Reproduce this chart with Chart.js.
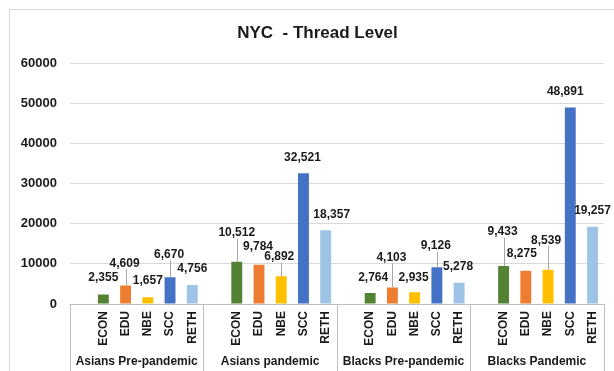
<!DOCTYPE html>
<html>
<head>
<meta charset="utf-8">
<script src="https://cdn.jsdelivr.net/npm/chart.js@4.4.1/dist/chart.umd.min.js"></script>
<style>
  html, body { margin: 0; padding: 0; background: #fff; }
  canvas { display: block; }
</style>
</head>
<body>
<canvas id="c" width="614" height="371"></canvas>
<script>
// Thread counts per measure, split into four population / period groups
const groups = ['Asians Pre-pandemic', 'Asians pandemic', 'Blacks Pre-pandemic', 'Blacks Pandemic'];
const measures = ['ECON', 'EDU', 'NBE', 'SCC', 'RETH'];
const asiansPrePandemic = [2355, 4609, 1657, 6670, 4756];
const asiansPandemic = [10512, 9784, 6892, 32521, 18357];
const blacksPrePandemic = [2764, 4103, 2935, 9126, 5278];
const blacksPandemic = [9433, 8275, 8539, 48891, 19257];
const yTicks = [0, 10000, 20000, 30000, 40000, 50000, 60000];

// styling
const measureColors = ['#548235', '#ED7D31', '#FFC000', '#4472C4', '#9DC3E6'];
// value label placement per bar: [x shift, lift above bar top, leader line]
const labelNudge = [
  [[0, 17, 0], [-1, 22, 1], [0, 17, 0], [-1, 22.5, 1], [0, 16, 0]],
  [[0, 29, 1], [-1, 18.5, 0], [-2, 19.5, 1], [-1, 16, 0], [6, 15.6, 0]],
  [[3, 15.7, 0], [-1, 30, 1], [-1, 15, 0], [-1, 21.6, 1], [-1, 16.6, 0]],
  [[-1, 34, 1], [-4, 16.6, 0], [-2, 29.5, 1], [-5, 16, 0], [0, 16.4, 0]]
];

const seriesByGroup = [asiansPrePandemic, asiansPandemic, blacksPrePandemic, blacksPandemic];

// each group gets a blank leading slot followed by its five measures
const labels = [];
const values = [];
const colors = [];
seriesByGroup.forEach((series) => {
  labels.push('');
  values.push(null);
  colors.push('rgba(0,0,0,0)');
  measures.forEach((m, i) => {
    labels.push(m);
    values.push(series[i]);
    colors.push(measureColors[i]);
  });
});

const FONT = "'Liberation Sans', Arial, sans-serif";
const TEXT = '#1a1a1a';

const decorations = {
  id: 'decorations',
  afterDraw(chart) {
    const ctx = chart.ctx;
    const xs = chart.scales.x;
    const area = chart.chartArea;
    const H = chart.height;
    ctx.save();

    // outer frame
    ctx.strokeStyle = '#d9d9d9';
    ctx.lineWidth = 1;
    ctx.strokeRect(9.5, 9.5, chart.width + 20, H + 20);

    // title
    ctx.fillStyle = TEXT;
    ctx.font = 'bold 17px ' + FONT;
    ctx.textAlign = 'center';
    ctx.textBaseline = 'middle';
    ctx.fillText('NYC  - Thread Level', 317.5, 33);

    // group separators and group names
    const slot = (xs.right - xs.left) / labels.length;
    ctx.strokeStyle = '#bfbfbf';
    for (let g = 0; g <= groups.length; g++) {
      const x = Math.round(xs.left + g * 6 * slot) + 0.5;
      ctx.beginPath();
      ctx.moveTo(x, area.bottom);
      ctx.lineTo(x, H);
      ctx.stroke();
    }
    ctx.font = 'bold 12px ' + FONT;
    groups.forEach((name, g) => {
      const cx = xs.left + (g * 6 + 3) * slot;
      ctx.fillText(name, cx, 362);
    });

    // value labels with leader lines
    const meta = chart.getDatasetMeta(0);
    meta.data.forEach((el, k) => {
      const s = k % 6;
      if (s === 0) return;
      const g = Math.floor(k / 6);
      const [dx, lift, leader] = labelNudge[g][s - 1];
      const ly = el.y - lift;
      if (leader) {
        ctx.strokeStyle = '#a6a6a6';
        ctx.beginPath();
        ctx.moveTo(Math.round(el.x) + 0.5, ly + 6);
        ctx.lineTo(Math.round(el.x) + 0.5, el.y);
        ctx.stroke();
      }
      ctx.fillStyle = TEXT;
      ctx.font = 'bold 12px ' + FONT;
      ctx.textAlign = 'center';
      ctx.textBaseline = 'middle';
      ctx.fillText(values[k].toLocaleString('en-US'), el.x + dx, ly);
    });
    ctx.restore();
  }
};

new Chart(document.getElementById('c'), {
  type: 'bar',
  data: {
    labels: labels,
    datasets: [{
      data: values,
      backgroundColor: colors,
      borderWidth: 0,
      barPercentage: 0.49,
      categoryPercentage: 1
    }]
  },
  options: {
    responsive: false,
    animation: false,
    devicePixelRatio: 1,
    layout: { padding: { top: 63, left: 20, right: 4, bottom: 25 } },
    plugins: {
      legend: { display: false },
      title: { display: false },
      tooltip: { enabled: false }
    },
    scales: {
      x: {
        grid: { display: false, drawTicks: false },
        border: { display: true, color: '#bfbfbf', width: 1 },
        ticks: {
          autoSkip: false,
          maxRotation: 90,
          minRotation: 90,
          padding: 7,
          color: TEXT,
          font: { family: FONT, size: 12, weight: 'bold' }
        },
        afterFit(scale) { scale.height = 42; }
      },
      y: {
        min: yTicks[0],
        max: yTicks[yTicks.length - 1],
        afterBuildTicks(scale) { scale.ticks = yTicks.map(v => ({ value: v })); },
        grid: { color: '#d9d9d9', drawTicks: false },
        border: { display: false },
        ticks: {
          padding: 13,
          color: TEXT,
          font: { family: FONT, size: 13, weight: 'bold' },
          callback: (v) => String(v)
        },
        afterFit(scale) { scale.width = 50; }
      }
    }
  },
  plugins: [decorations]
});
</script>
</body>
</html>
